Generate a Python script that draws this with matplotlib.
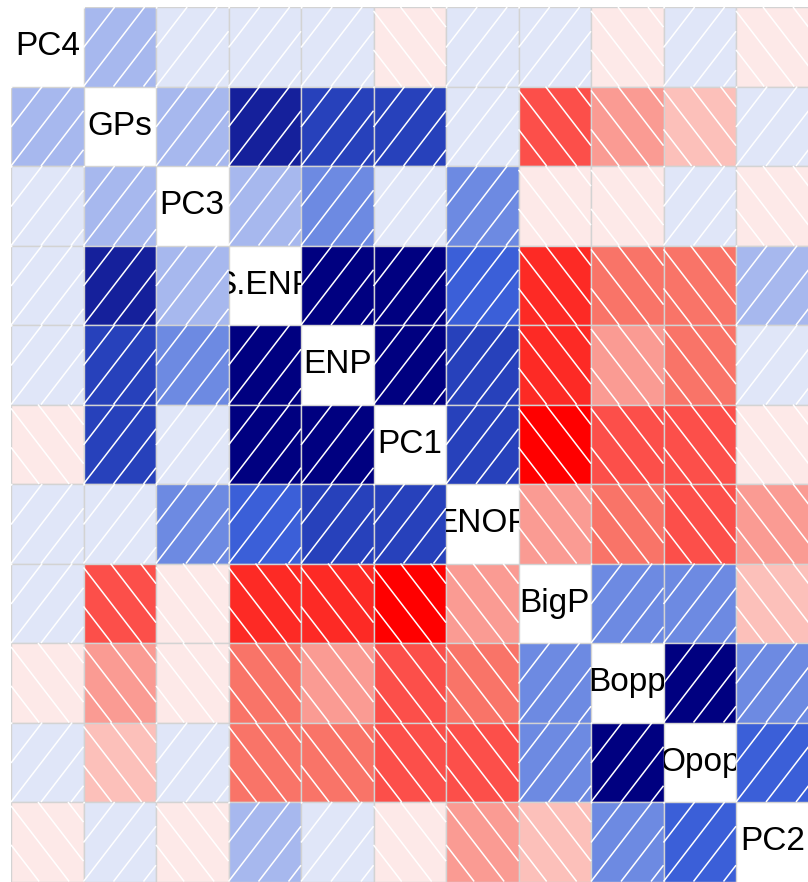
import numpy as np
import matplotlib
matplotlib.use("Agg")
from matplotlib import pyplot as plt
from matplotlib.patches import Rectangle

# variable order along the diagonal
labels = ["PC4", "GPs", "PC3", "S.ENP", "ENP", "PC1", "ENOP", "BigP", "Bopp", "Opop", "PC2"]

# upper triangle of the correlation matrix, row by row (values right of the diagonal)
upper = [
    [0.21, 0.07, 0.07, 0.07, -0.07, 0.07, 0.07, -0.07, 0.07, -0.07],
    [0.21, 0.79, 0.64, 0.64, 0.07, -0.64, -0.36, -0.21, 0.07],
    [0.21, 0.36, 0.07, 0.36, -0.07, -0.07, 0.07, -0.07],
    [0.93, 0.93, 0.50, -0.79, -0.50, -0.50, 0.21],
    [0.93, 0.64, -0.79, -0.36, -0.50, 0.07],
    [0.64, -0.93, -0.64, -0.64, -0.07],
    [-0.36, -0.50, -0.64, -0.36],
    [0.36, 0.36, -0.21],
    [0.93, 0.36],
    [0.50],
]

# 14 shade colours, red (-1) .. navy (+1)
pal = ['#FF0000', '#FD2A25', '#FC4F4A', '#F97468', '#FA9B93', '#FCC0BA', '#FDE9E8',
       '#E0E6F8', '#A7B8EE', '#6D8AE2', '#3B5FD8', '#2741BB', '#15209B', '#000080']

n = len(labels)
corr = np.eye(n)
for i, row in enumerate(upper):
    for k, v in enumerate(row):
        corr[i, i + 1 + k] = v
        corr[i + 1 + k, i] = v

W, H = 808, 882
fig = plt.figure(figsize=(W / 100, H / 100), dpi=100)
ax = fig.add_axes([11 / W, 0.5 / H, 797.5 / W, 874.5 / H])
ax.set_xlim(0, n)
ax.set_ylim(n, 0)
ax.axis("off")

cell_w = 797.5 / n   # pixels
cell_h = 874.5 / n
slope = 1.3 * cell_w / cell_h   # hatch slope in cell units
step = 30 / cell_w             # horizontal spacing of hatch lines


def hatch_segment(a, s):
    """part of the line v = a + s*u inside the unit square"""
    u0, u1 = (0 - a) / s, (1 - a) / s
    lo, hi = max(0.0, min(u0, u1)), min(1.0, max(u0, u1))
    if hi <= lo:
        return None
    u = np.array([lo, hi])
    return u, a + s * u


for i in range(n):
    for j in range(n):
        if i == j:
            t = ax.text(j + 0.5, i + 0.5, labels[i], ha="center", va="center",
                        fontsize=24, family="Liberation Sans")
            t.set_clip_path(Rectangle((j, i), 1, 1, transform=ax.transData))
            t.set_clip_on(True)
            continue
        r = corr[i, j]
        idx = min(int((r + 1) / 2 * 14), 13)
        ax.add_patch(Rectangle((j, i), 1, 1, facecolor=pal[idx], edgecolor="none"))
        for k in range(-4, 5):
            if r > 0:
                c = k * step
                seg = hatch_segment(-slope * c, slope)
            else:
                c = k * step - 3 / cell_w
                seg = hatch_segment(1 + slope * c, -slope)
            if seg is None:
                continue
            u, v = seg
            ax.plot(j + u, i + 1 - v, color="white", lw=1.1, solid_capstyle="butt")
        ax.add_patch(Rectangle((j, i), 1, 1, facecolor="none",
                               edgecolor="#D3D3D3", lw=1.0))

fig.savefig("out.png", dpi=100)
